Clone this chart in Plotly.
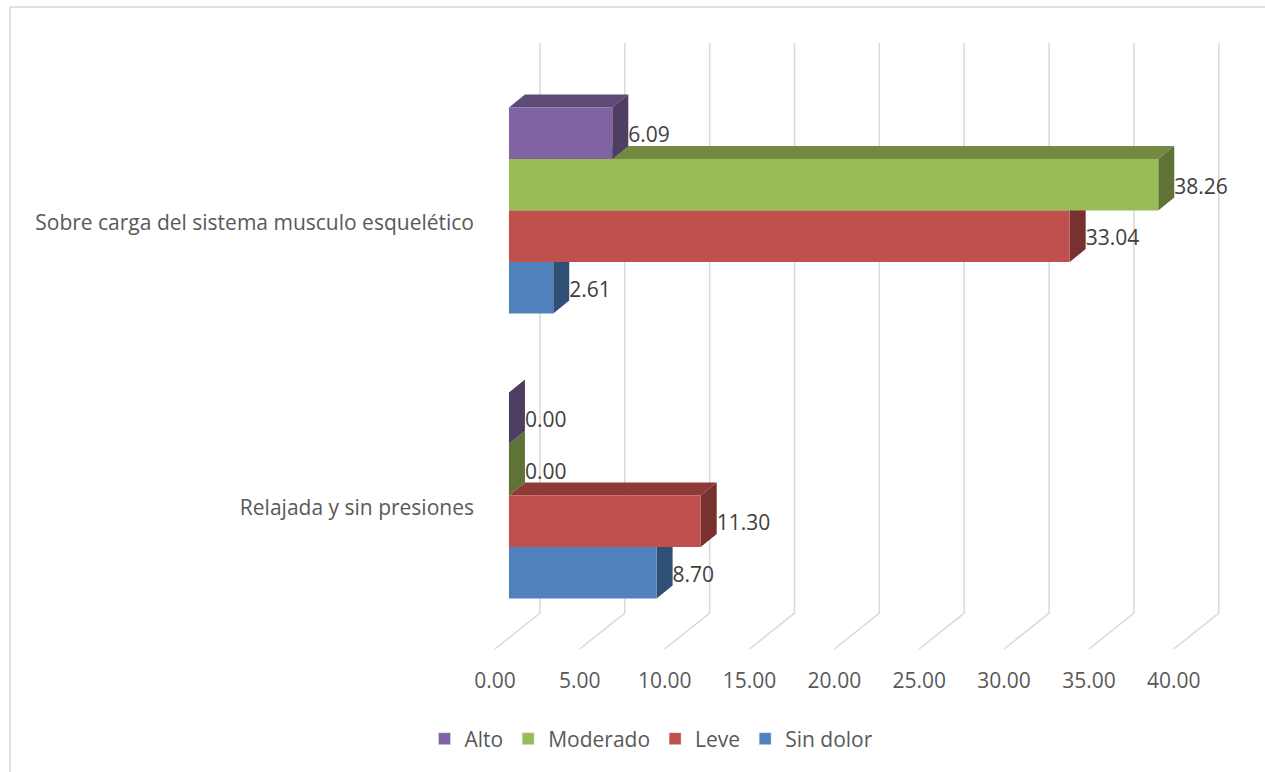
import plotly.graph_objects as go

# ---- data -------------------------------------------------------------
categories = ["Relajada y sin presiones", "Sobre carga del sistema musculo esquelético"]
sin_dolor = [8.70, 2.61]
leve = [11.30, 33.04]
moderado = [0.00, 38.26]
alto = [0.00, 6.09]
x_ticks = [0, 5, 10, 15, 20, 25, 30, 35, 40]

# series stacked bottom -> top inside each category group
series = [
    ("Sin dolor", sin_dolor, "#4F81BD"),
    ("Leve", leve, "#C0504D"),
    ("Moderado", moderado, "#9BBB59"),
    ("Alto", alto, "#8064A2"),
]
legend_order = ["Alto", "Moderado", "Leve", "Sin dolor"]

# ---- geometry of the pseudo-3D projection (data units) ----------------
X_RANGE = [-2.0, 44.55]
Y_RANGE = [-0.542, 1.588]
BAR_H = 0.1807          # thickness of one bar along the category axis
DX, DY = 0.943, 0.0456  # oblique offset of a bar's back face
WALL_DX = 1.827         # back wall relative to the bar front plane
FLOOR_DX = -0.825       # front edge of the floor relative to the bar front plane
FLOOR_BACK_Y = -0.4123
FLOOR_FRONT_Y = -0.5386
LABEL_DROP = 0.013      # value labels sit slightly below the bar centre

FONT = "Open Sans"
FONT_SIZE = 21
TEXT_GREY = "#595959"
LABEL_GREY = "#404040"
GRID = "#D9D9D9"


def shade(hex_color, k):
    r, g, b = (int(hex_color[i:i + 2], 16) for i in (1, 3, 5))
    return "#%02X%02X%02X" % (int(r * k), int(g * k), int(b * k))


fig = go.Figure()

# gridlines: vertical on the back wall, then slanting forward over the floor
gx, gy = [], []
for t in x_ticks:
    gx += [t + WALL_DX, t + WALL_DX, t + FLOOR_DX, None]
    gy += [Y_RANGE[1], FLOOR_BACK_Y, FLOOR_FRONT_Y, None]
fig.add_trace(go.Scatter(x=gx, y=gy, mode="lines", line=dict(color=GRID, width=1.5),
                         hoverinfo="skip", showlegend=False))

# bar faces, lower bars first so the bar above hides their top faces
n_series = len(series)
for k, (name, vals, col) in enumerate(series):
    top_x, top_y, side_x, side_y, front_x, front_y = [], [], [], [], [], []
    for c, v in enumerate(vals):
        yb = c + (k - n_series / 2) * BAR_H
        yt = yb + BAR_H
        top_x += [0, v, v + DX, DX, 0, None]
        top_y += [yt, yt, yt + DY, yt + DY, yt, None]
        side_x += [v, v + DX, v + DX, v, v, None]
        side_y += [yb, yb + DY, yt + DY, yt, yb, None]
        front_x += [0, v, v, 0, 0, None]
        front_y += [yb, yb, yt, yt, yb, None]
    for fx, fy, fc in ((top_x, top_y, shade(col, 0.74)),
                       (side_x, side_y, shade(col, 0.62)),
                       (front_x, front_y, col)):
        fig.add_trace(go.Scatter(x=fx, y=fy, mode="lines", fill="toself", fillcolor=fc,
                                 line=dict(width=0, color=fc), hoverinfo="skip",
                                 showlegend=False))

# value labels beside each bar
lx, ly, lt = [], [], []
for k, (name, vals, col) in enumerate(series):
    for c, v in enumerate(vals):
        yb = c + (k - n_series / 2) * BAR_H
        lx.append(v + DX)
        ly.append(yb + BAR_H / 2 - LABEL_DROP)
        lt.append(f"{v:.2f}")
fig.add_trace(go.Scatter(x=lx, y=ly, text=lt, mode="text", textposition="middle right",
                         textfont=dict(family=FONT, size=FONT_SIZE, color=LABEL_GREY),
                         hoverinfo="skip", showlegend=False))

# legend entries
colors = {name: col for name, _, col in series}
for name in legend_order:
    fig.add_trace(go.Bar(x=[None], y=[None], orientation="h", name=name,
                         marker_color=colors[name]))

# chart frame
fig.add_shape(type="line", xref="paper", yref="paper", x0=-0.5886, x1=1.2, y0=1.0593, y1=1.0593,
              line=dict(color=GRID, width=1.5))
fig.add_shape(type="line", xref="paper", yref="paper", x0=-0.5886, x1=-0.5886, y0=1.0593, y1=-0.4,
              line=dict(color=GRID, width=1.5))

fig.update_layout(
    width=1265, height=772,
    margin=dict(l=475, r=0, t=43, b=122),
    paper_bgcolor="white", plot_bgcolor="white",
    font=dict(family=FONT, size=FONT_SIZE, color=TEXT_GREY),
    showlegend=True,
    legend=dict(orientation="h", x=0.2234, xanchor="center", y=-0.1466, yanchor="middle",
                font=dict(family=FONT, size=FONT_SIZE, color=TEXT_GREY), traceorder="normal"),
    xaxis=dict(type="linear", range=X_RANGE, showgrid=False, zeroline=False, showline=False,
               tickvals=[t + FLOOR_DX for t in x_ticks], ticktext=[f"{t:.2f}" for t in x_ticks],
               ticks="outside", ticklen=12, tickcolor="rgba(0,0,0,0)", fixedrange=True),
    yaxis=dict(type="linear", range=Y_RANGE, showgrid=False, zeroline=False, showline=False,
               tickvals=[c - 0.042 for c in range(len(categories))], ticktext=categories,
               ticks="", fixedrange=True),
)

fig.write_html("out.html")
